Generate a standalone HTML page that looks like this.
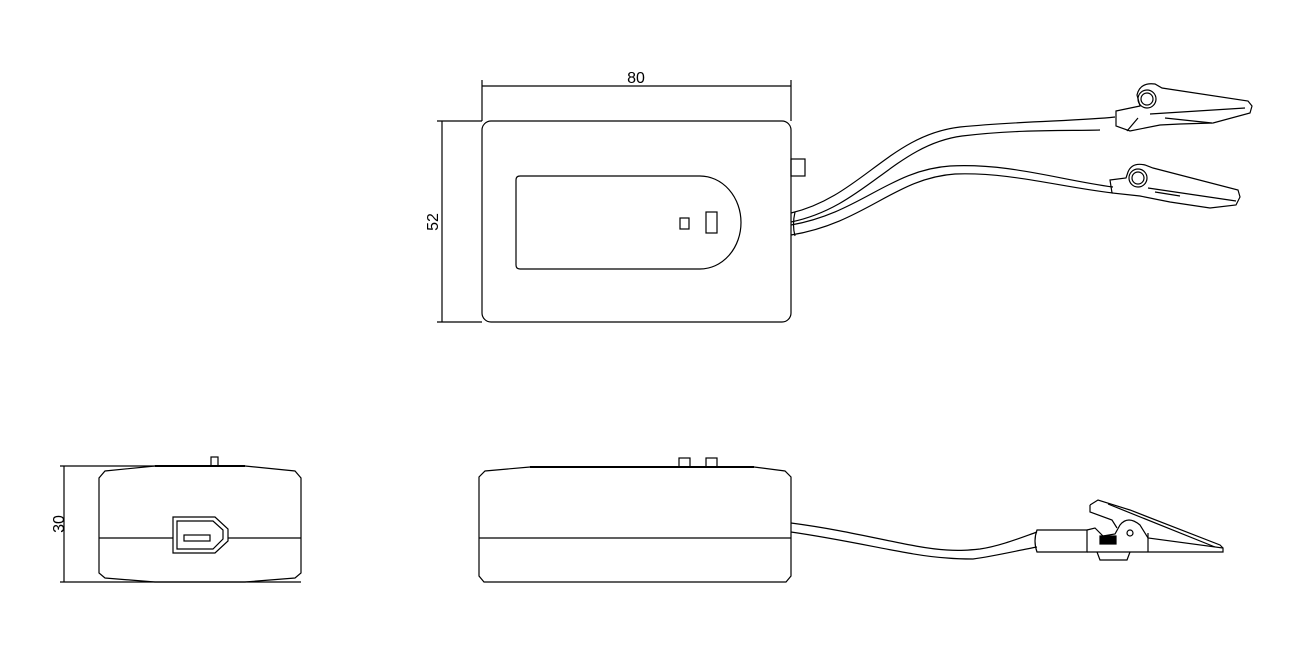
<!DOCTYPE html>
<html><head><meta charset="utf-8"><style>html,body{margin:0;padding:0;background:#fff}svg{display:block}</style></head>
<body>
<svg width="1291" height="645" viewBox="0 0 1291 645" xmlns="http://www.w3.org/2000/svg" fill="none" stroke="#000" stroke-width="1.2" font-family="Liberation Sans, sans-serif">
<!-- TOP VIEW -->
<line x1="482" y1="80" x2="482" y2="121"/>
<line x1="791" y1="80" x2="791" y2="121"/>
<line x1="482" y1="86" x2="791" y2="86"/>
<text x="636" y="83" font-size="16" fill="#000" stroke="none" text-anchor="middle">80</text>
<line x1="437" y1="121" x2="482" y2="121"/>
<line x1="437" y1="322" x2="482" y2="322"/>
<line x1="442" y1="121" x2="442" y2="322"/>
<text x="0" y="0" font-size="16" fill="#000" stroke="none" text-anchor="middle" transform="translate(438,222) rotate(-90)">52</text>
<rect x="482" y="121" width="309" height="201" rx="9"/>
<path d="M520,176 H700 A41,46.5 0 0 1 700,269 H520 Q516,269 516,265 V180 Q516,176 520,176 Z"/>
<rect x="680" y="218" width="9" height="11"/>
<rect x="706" y="212" width="11" height="21"/>
<rect x="791" y="159" width="14" height="17"/>
<!-- cables top view -->
<path d="M791,213 C860,197 890,135 960,127 C1020,121 1080,121 1115,117"/>
<path d="M791,222 C865,207 895,145 962,136 C1020,129 1070,131 1100,130"/>
<path d="M791,225 C860,213 890,170 950,166 C1010,163 1060,180 1113,187"/>
<path d="M791,235 C865,223 895,178 955,174 C1010,172 1060,187 1113,193"/>
<path d="M795,212 Q792,225 795,236"/>
<!-- clip 1 -->
<path d="M1116,111 L1140,106 L1137,95 Q1140,82 1155,84 L1162,88 L1248,101 L1252,106 L1250,113 L1213,123 L1180,124 L1160,125 L1130,131 L1116,126 Z"/>
<circle cx="1147" cy="99" r="9"/>
<circle cx="1147" cy="99" r="6"/>
<path d="M1150,114 L1245,108 M1165,118 L1212,123 M1138,118 L1127,131"/>
<!-- clip 2 -->
<path d="M1110,180 L1126,178 L1128,172 Q1132,162 1145,165 L1153,168 L1238,190 L1240,197 L1236,205 L1210,208 L1170,202 L1140,196 L1112,193 Z"/>
<circle cx="1138" cy="178" r="9"/>
<circle cx="1138" cy="178" r="6"/>
<path d="M1148,188 L1236,201 M1155,192 L1180,196"/>
<!-- LEFT SIDE VIEW -->
<line x1="60" y1="466" x2="215" y2="466"/>
<line x1="60" y1="582" x2="301" y2="582"/>
<line x1="64" y1="466" x2="64" y2="582"/>
<text x="0" y="0" font-size="16" fill="#000" stroke="none" text-anchor="middle" transform="translate(64,524) rotate(-90)">30</text>
<path d="M155,466 L105,471 L99,478 V573 L105,578 L155,582 L245,582 L295,578 L301,573 V478 L295,471 L245,466 Z"/>
<line x1="155" y1="466" x2="245" y2="466" stroke-width="2"/>
<rect x="211" y="457" width="7" height="9"/>
<line x1="99" y1="538" x2="173" y2="538"/>
<line x1="228" y1="538" x2="301" y2="538"/>
<path d="M173,517 H215 L228,529 V541 L215,553 H173 Z"/>
<path d="M177,521 H213 L223,530 V539 L213,549 H177 Z"/>
<rect x="184" y="535" width="26" height="6"/>
<!-- FRONT SIDE VIEW -->
<path d="M530,467 L485,471 L479,477 V576 L484,582 H786 L791,576 V477 L785,471 L754,467 Z"/>
<line x1="530" y1="467" x2="754" y2="467" stroke-width="2"/>
<rect x="679" y="458" width="11" height="9"/>
<rect x="706" y="458" width="11" height="9"/>
<line x1="479" y1="538" x2="791" y2="538"/>
<path d="M791,523 C860,532 910,548 947,550 C960,551 970,550 980,549 C1000,546 1020,538 1037,532"/>
<path d="M791,532 C860,542 910,556 947,558 C958,559 966,559 973,559 C995,556 1020,550 1037,547"/>
<!-- clip side -->
<path d="M1037,530 H1087 V552 H1037 Q1033,541 1037,530 Z"/>
<path d="M1087,530 L1095,528 L1103,536 L1115,534 L1120,525 Q1128,515 1140,525 L1148,538 L1223,548 L1223,552 H1087"/>
<path d="M1090,505 L1098,500 L1130,510 L1220,545 L1223,548"/>
<path d="M1090,505 L1090,512 L1112,520 L1117,528"/>
<path d="M1108,504 L1215,547"/>
<rect x="1100" y="536" width="16" height="8" fill="#000"/>
<circle cx="1130" cy="533" r="3"/>
<path d="M1097,552 L1100,560 H1127 L1130,552"/>
<line x1="1148" y1="533" x2="1148" y2="552"/>
</svg>
</body></html>
